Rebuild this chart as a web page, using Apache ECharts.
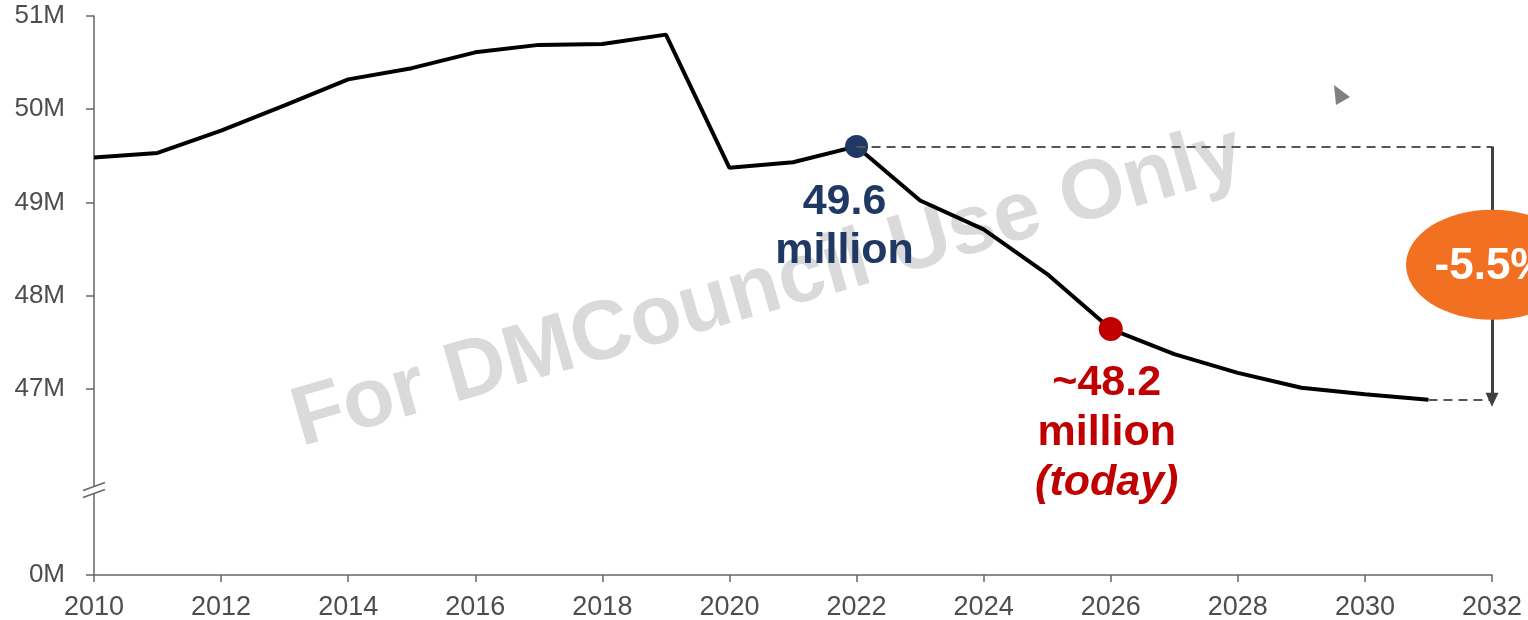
<!DOCTYPE html>
<html>
<head>
<meta charset="utf-8">
<title>Population</title>
<script src="https://cdn.jsdelivr.net/npm/echarts@6/dist/echarts.min.js"></script>
<style>
  html, body { margin: 0; padding: 0; background: #fff; }
  #chart { width: 1528px; height: 620px; }
</style>
</head>
<body>
<div id="chart"></div>
<script>
// data (millions)
const years = [2010, 2011, 2012, 2013, 2014, 2015, 2016, 2017, 2018, 2019, 2020,
  2021, 2022, 2023, 2024, 2025, 2026, 2027, 2028, 2029, 2030, 2031];
const population = [49.48, 49.53, 49.77, 50.04, 50.32, 50.44, 50.61, 50.69, 50.70, 50.80, 49.37,
  49.43, 49.60, 49.02, 48.71, 48.23, 47.64, 47.37, 47.17, 47.01, 46.94, 46.88];
const yTicks = [0, 47, 48, 49, 50, 51];
const xTickStep = 2;

// highlighted points
const peakYear = 2022;
const peakLabel = ['49.6', 'million'];
const todayYear = 2026;
const todayLabel = ['~48.2', 'million', '(today)'];
const changeLabel = '-5.5%';
const watermark = 'For DMCouncil Use Only';

// the y axis is broken between 0 and 47M: values above the break are shifted down
const breakBase = 45;
const toAxis = v => (v === 0 ? 0 : v - breakBase);
const fromAxis = v => (v === 0 ? 0 : v + breakBase);

const FONT = 'Liberation Sans, Arial, sans-serif';
const NAVY = '#203864';
const RED = '#c00000';
const ORANGE = '#f27021';
const AXIS = '#666';
const TEXT = '#4d4d4d';

const lineData = years.map((y, i) => [y, toAxis(population[i])]);
const valueAt = yr => population[years.indexOf(yr)];
const lastYear = years[years.length - 1];
const axisTicks = yTicks.map(toAxis);
const xEnd = 2032;

const chart = echarts.init(document.getElementById('chart'));
chart.setOption({
  animation: false,
  grid: { left: 94, right: 36, top: 16, bottom: 45, outerBoundsMode: 'none' },
  xAxis: {
    type: 'value',
    min: years[0],
    max: xEnd,
    interval: xTickStep,
    axisLine: { lineStyle: { color: AXIS, width: 1.5 } },
    axisTick: { length: 7, lineStyle: { color: AXIS, width: 1.5 } },
    axisLabel: { color: TEXT, fontSize: 27, fontFamily: FONT, margin: 19, formatter: v => String(v) },
    splitLine: { show: false }
  },
  yAxis: {
    type: 'value',
    min: 0,
    max: 6,
    interval: 1,
    axisLine: { show: true, lineStyle: { color: AXIS, width: 1.5 } },
    axisTick: { show: true, length: 8, customValues: axisTicks, lineStyle: { color: AXIS, width: 1.5 } },
    axisLabel: {
      color: TEXT, fontSize: 26, fontFamily: FONT, margin: 29,
      customValues: axisTicks,
      formatter: v => fromAxis(v) + 'M'
    },
    splitLine: { show: false }
  },
  series: [
    {
      type: 'line',
      data: lineData,
      symbol: 'none',
      clip: false,
      lineStyle: { color: '#000', width: 4 },
      z: 3,
      markLine: {
        silent: true,
        symbol: 'none',
        label: { show: false },
        lineStyle: { color: '#555', type: [9, 6], width: 2 },
        data: [
          [{ coord: [peakYear, toAxis(valueAt(peakYear))] }, { coord: [xEnd, toAxis(valueAt(peakYear))] }],
          [{ coord: [lastYear, toAxis(valueAt(lastYear))] }, { coord: [xEnd, toAxis(valueAt(lastYear))] }],
          [
            { coord: [xEnd, toAxis(valueAt(peakYear))], symbol: 'none', lineStyle: { type: 'solid', width: 3, color: '#404040' } },
            { coord: [xEnd, toAxis(valueAt(lastYear))], symbol: 'triangle', symbolSize: [13, 14], symbolRotate: 180 }
          ]
        ]
      }
    },
    {
      type: 'scatter',
      data: [[peakYear, toAxis(valueAt(peakYear))]],
      symbolSize: 23,
      itemStyle: { color: NAVY, opacity: 1 },
      z: 4,
      label: {
        show: true,
        position: 'bottom',
        distance: 20,
        offset: [-12, 0],
        formatter: () => peakLabel.join('\n'),
        color: NAVY,
        fontSize: 43,
        fontWeight: 'bold',
        fontFamily: FONT,
        lineHeight: 49,
        align: 'center'
      }
    },
    {
      type: 'scatter',
      data: [[todayYear, toAxis(valueAt(todayYear))]],
      symbolSize: 24,
      itemStyle: { color: RED, opacity: 1 },
      z: 4,
      label: {
        show: true,
        position: 'bottom',
        distance: 17,
        offset: [-4, 0],
        formatter: () => todayLabel[0] + '\n' + todayLabel[1] + '\n{i|' + todayLabel[2] + '}',
        color: RED,
        fontSize: 43,
        fontWeight: 'bold',
        fontFamily: FONT,
        lineHeight: 50,
        align: 'center',
        rich: {
          i: { fontStyle: 'italic', fontWeight: 'bold', fontSize: 43, fontFamily: FONT, color: RED, lineHeight: 50 }
        }
      }
    }
  ]
});

// annotations placed with the axis scales
const px = (x, v) => chart.convertToPixel({ gridIndex: 0 }, [x, v]);
const brk = px(years[0], 0.95);
const oval = px(xEnd, 3.33);
chart.setOption({
  graphic: [
    {
      type: 'text',
      x: 768, y: 288,
      rotation: 0.28,
      z: -1,
      style: {
        text: watermark,
        font: 'bold 84px ' + FONT,
        fill: '#dadada',
        align: 'center',
        verticalAlign: 'middle'
      }
    },
    {
      type: 'polygon',
      z: 50,
      shape: { points: [[brk[0] - 11, brk[1] + 4], [brk[0] + 11, brk[1] - 4], [brk[0] + 11, brk[1] + 3], [brk[0] - 11, brk[1] + 11]] },
      style: { fill: '#fff' }
    },
    {
      type: 'line', z: 51,
      shape: { x1: brk[0] - 11, y1: brk[1] + 4, x2: brk[0] + 11, y2: brk[1] - 4 },
      style: { stroke: AXIS, lineWidth: 1.5 }
    },
    {
      type: 'line', z: 51,
      shape: { x1: brk[0] - 11, y1: brk[1] + 11, x2: brk[0] + 11, y2: brk[1] + 3 },
      style: { stroke: AXIS, lineWidth: 1.5 }
    },
    {
      type: 'ellipse', z: 60,
      shape: { cx: oval[0], cy: oval[1], rx: 86, ry: 55 },
      style: { fill: ORANGE }
    },
    {
      type: 'text', z: 61,
      x: oval[0], y: oval[1] + 2,
      style: {
        text: changeLabel,
        font: 'bold 44px ' + FONT,
        fill: '#fff',
        align: 'center',
        verticalAlign: 'middle'
      }
    },
    {
      type: 'polygon', z: 60,
      shape: { points: [[1334, 85], [1350, 97], [1336, 105]] },
      style: { fill: '#808080' }
    }
  ]
});
</script>
</body>
</html>
